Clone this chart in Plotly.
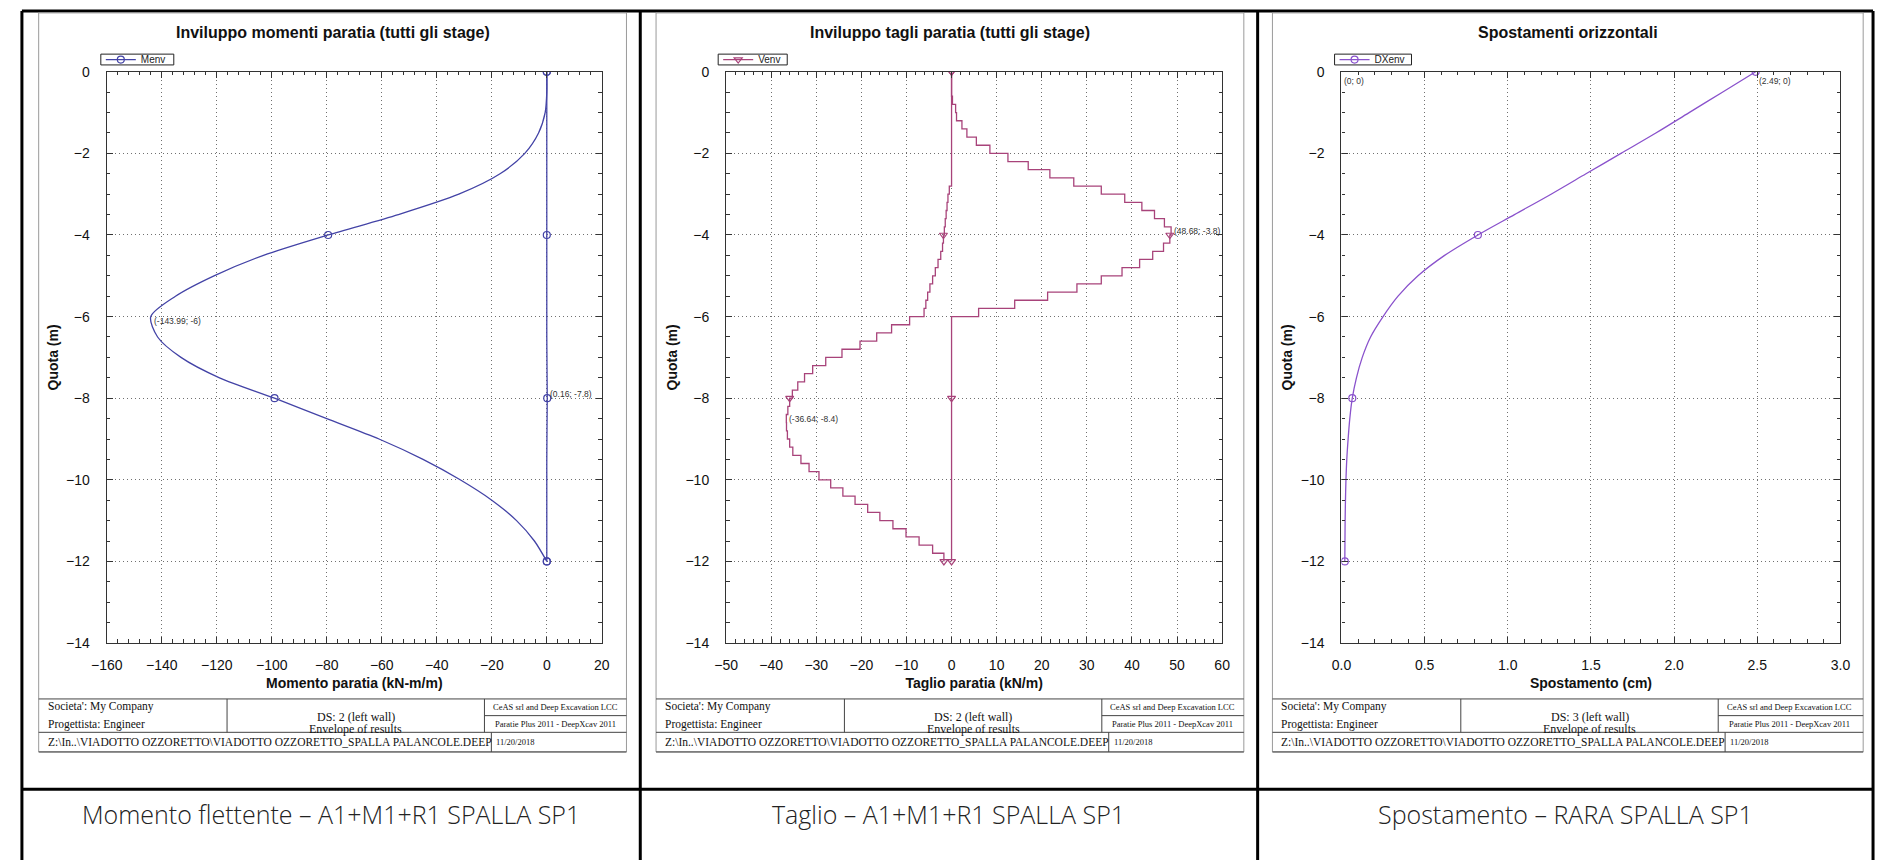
import plotly.graph_objects as go

W, H = 1886, 863

# ---------------- data ----------------
# Chart 1 - envelope of bending moment (kN-m/m) vs depth (m)
z_m = [0, -0.5, -1, -1.5, -2, -2.5, -3, -3.5, -4, -4.5, -5, -5.5, -6,
       -6.5, -7, -7.5, -8, -8.5, -9, -9.5, -10, -10.5, -11, -11.5, -12]
M_min = [0, 0, -0.6, -3, -8, -17, -32, -54, -79.5, -103, -121, -135, -143.99,
         -141.5, -133, -119, -99, -80, -61, -45, -31.5, -20, -11, -4.5, 0]
M_max = [0, 0, 0, 0, 0, 0, 0, 0, 0, 0, 0, 0, 0,
         0, 0.05, 0.1, 0.16, 0.1, 0.05, 0, 0, 0, 0, 0, 0]

# Chart 2 - envelope of shear (kN/m) vs depth (m), stepwise
z_v = [0, -0.2, -0.4, -0.6, -0.8, -1.0, -1.2, -1.4, -1.6, -1.8,
       -2.0, -2.2, -2.4, -2.6, -2.8, -3.0, -3.2, -3.4, -3.6, -3.8,
       -4.0, -4.2, -4.4, -4.6, -4.8, -5.0, -5.2, -5.4, -5.6, -5.8,
       -6.0, -6.2, -6.4, -6.6, -6.8, -7.0, -7.2, -7.4, -7.6, -7.8,
       -8.0, -8.2, -8.4, -8.6, -8.8, -9.0, -9.2, -9.4, -9.6, -9.8,
       -10.0, -10.2, -10.4, -10.6, -10.8, -11.0, -11.2, -11.4, -11.6, -11.8,
       -12.0]
V_max = [0, 0, 0, 0.2, 0.9, 1.1, 2.3, 3.4, 5.5, 8.5,
         12.5, 17.0, 21.8, 27.1, 33.2, 38.4, 42.2, 45.0, 47.2, 48.68,
         48.4, 47.0, 44.6, 41.7, 37.8, 33.2, 27.8, 21.3, 14.0, 6.0,
         0, 0, 0, 0, 0, 0, 0, 0, 0, 0,
         0, 0, 0, 0, 0, 0, 0, 0, 0, 0,
         0, 0, 0, 0, 0, 0, 0, 0, 0, 0,
         0]
V_min = [0, 0, 0, 0, 0, 0, 0, 0, 0, 0,
         0, 0, 0, 0, -0.5, -0.8, -1.0, -1.2, -1.4, -1.6,
         -1.8, -2.0, -2.4, -3.0, -3.6, -4.2, -4.8, -5.3, -5.7, -6.1,
         -9.3, -13.3, -16.6, -20.3, -24.3, -27.9, -30.8, -32.6, -34.1, -35.3,
         -35.9, -36.3, -36.64, -36.6, -36.4, -35.9, -35.2, -33.4, -31.6, -29.4,
         -26.8, -24.1, -21.4, -18.6, -15.9, -13.0, -10.1, -7.2, -4.2, -1.7,
         -1.7]

# Chart 3 - horizontal displacement envelope (cm) vs depth (m)
z_d = [0, -0.5, -1, -1.5, -2, -2.5, -3, -3.5, -4, -4.5, -5, -5.5, -6,
       -6.5, -7, -7.5, -8, -8.5, -9, -9.5, -10, -10.5, -11, -11.5, -12]
DX = [2.49, 2.29, 2.09, 1.89, 1.68, 1.47, 1.26, 1.04, 0.82, 0.62, 0.46, 0.34, 0.25,
      0.175, 0.125, 0.09, 0.065, 0.05, 0.04, 0.032, 0.027, 0.024, 0.022, 0.021, 0.02]

# point labels (value, depth)
M_labels = [(-143.99, -6), (0.16, -7.8)]
V_labels = [(48.68, -3.8), (-36.64, -8.4)]
D_labels = [(2.49, 0), (0, 0)]

titles = ["Inviluppo momenti paratia (tutti gli stage)",
          "Inviluppo tagli paratia (tutti gli stage)",
          "Spostamenti orizzontali"]
xtitles = ["Momento paratia (kN-m/m)", "Taglio paratia (kN/m)", "Spostamento (cm)"]
ytitle = "Quota (m)"
legend_names = ["Menv", "Venv", "DXenv"]
ds_texts = ["DS: 2 (left wall)", "DS: 2 (left wall)", "DS: 3 (left wall)"]
captions = ["Momento flettente \u2013 A1+M1+R1 SPALLA SP1",
            "Taglio \u2013 A1+M1+R1 SPALLA SP1",
            "Spostamento \u2013 RARA SPALLA SP1"]
block_texts = {
    "company": "Societa': My Company",
    "designer": "Progettista: Engineer",
    "env": "Envelope of results",
    "ceas": "CeAS srl and Deep Excavation LCC",
    "prog": "Paratie Plus 2011 - DeepXcav 2011",
    "path": "Z:\\In..\\VIADOTTO OZZORETTO\\VIADOTTO OZZORETTO_SPALLA PALANCOLE.DEEP",
    "date": "11/20/2018",
}

# ---------------- style ----------------
SANS = "Liberation Sans, Arial, sans-serif"
SERIF = "Liberation Serif, Times New Roman, serif"
CAPF = "Open Sans, sans-serif"
C1, C2, C3 = "#4343a6", "#a8437a", "#8a52cc"

FRAMES = [(23, 619), (649, 1245), (1274, 1873)]
PLOTX = [(92, 594), (720, 1223), (1344, 1850)]
PY0, PY1 = 65, 647
COLSEP = [6, 633, 1259, 1883]
ROWSEP = 796
LEG_W = [74, 70, 78]


def px(x):
    return x / W


def py(y):
    return 1 - y / H


def mcolors(zs, c):
    return [c if (z % 4 == 0) else "rgba(0,0,0,0)" for z in zs]


fig = go.Figure()

# chart 1
fig.add_trace(go.Scatter(x=M_min, y=z_m, mode="lines+markers", name=legend_names[0],
                         line=dict(color=C1, width=1.3, shape="spline", smoothing=0.8),
                         marker=dict(symbol="circle-open", size=7, color=mcolors(z_m, C1), line=dict(width=1.2)),
                         xaxis="x", yaxis="y", legend="legend", showlegend=True))
fig.add_trace(go.Scatter(x=M_max, y=z_m, mode="lines+markers", name=legend_names[0],
                         line=dict(color=C1, width=1.3, shape="spline", smoothing=0.8),
                         marker=dict(symbol="circle-open", size=7, color=mcolors(z_m, C1), line=dict(width=1.2)),
                         xaxis="x", yaxis="y", legend="legend", showlegend=False))
# chart 2
fig.add_trace(go.Scatter(x=V_max, y=z_v, mode="lines+markers", name=legend_names[1],
                         line=dict(color=C2, width=1.3, shape="vh"),
                         marker=dict(symbol="triangle-down-open", size=7, color=mcolors(z_v, C2), line=dict(width=1.2)),
                         xaxis="x2", yaxis="y2", legend="legend2", showlegend=True))
fig.add_trace(go.Scatter(x=V_min, y=z_v, mode="lines+markers", name=legend_names[1],
                         line=dict(color=C2, width=1.3, shape="vh"),
                         marker=dict(symbol="triangle-down-open", size=7, color=mcolors(z_v, C2), line=dict(width=1.2)),
                         xaxis="x2", yaxis="y2", legend="legend2", showlegend=False))
# chart 3
fig.add_trace(go.Scatter(x=DX, y=z_d, mode="lines+markers", name=legend_names[2],
                         line=dict(color=C3, width=1.3, shape="spline", smoothing=0.9),
                         marker=dict(symbol="circle-open", size=7, color=mcolors(z_d, C3), line=dict(width=1.2)),
                         xaxis="x3", yaxis="y3", legend="legend3", showlegend=True))


def axis(rng, dtick, mdtick, domain, title, anchor, fmt=None, is_x=True):
    d = dict(range=rng, dtick=dtick, tick0=0, domain=domain, anchor=anchor,
             showline=True, linecolor="#333", linewidth=1.2, mirror="allticks",
             ticks="inside", ticklen=6, tickwidth=1, tickcolor="#333",
             minor=dict(ticks="inside", ticklen=3.5, dtick=mdtick, tick0=0, tickcolor="#333",
                        tickwidth=1, showgrid=False),
             showgrid=True, gridcolor="#707070", gridwidth=1, griddash="1px,3px",
             zeroline=False, fixedrange=True,
             tickfont=dict(family=SANS, size=14, color="#111"),
             title=dict(text=title, font=dict(family=SANS, size=14, color="#111", weight="bold"),
                        standoff=6 if is_x else 4),
             ticklabelstandoff=9 if is_x else 13)
    if fmt:
        d["tickformat"] = fmt
    return d


def cross_axis(rng, dtick, over, anchor):
    # outer half of the major ticks (they cross the frame in the original)
    return dict(range=rng, dtick=dtick, tick0=0, overlaying=over, anchor=anchor,
                ticks="outside", ticklen=4, tickwidth=1, tickcolor="#333",
                showticklabels=False, showgrid=False, showline=False, zeroline=False,
                fixedrange=True)


ydom = [py(PY1), py(PY0)]
xr = [[-160, 20], [-50, 60], [0, 3]]
xd = [20, 10, 0.5]
xm = [4, 2, 0.1]
fmts = [None, None, ".1f"]
layout_axes = {}
for i in range(3):
    sfx = "" if i == 0 else str(i + 1)
    layout_axes["xaxis" + sfx] = axis(xr[i], xd[i], xm[i], [px(PLOTX[i][0]), px(PLOTX[i][1])],
                                      xtitles[i], "y" + sfx, fmts[i], True)
    layout_axes["yaxis" + sfx] = axis([-14, 0], 2, 0.5, ydom, ytitle, "x" + sfx, None, False)
    layout_axes["xaxis" + str(i + 4)] = cross_axis(xr[i], xd[i], "x" + sfx, "y" + sfx)
    layout_axes["yaxis" + str(i + 4)] = cross_axis([-14, 0], 2, "y" + sfx, "x" + sfx)

legend_common = dict(xanchor="left", yanchor="middle", borderwidth=0,
                     bgcolor="rgba(0,0,0,0)", font=dict(family=SANS, size=10, color="#222"),
                     itemwidth=30, tracegroupgap=0)
legends = {}
shapes = []
annotations = []
for i, key in enumerate(["legend", "legend2", "legend3"]):
    lx = FRAMES[i][0] + 63
    legends[key] = dict(x=px(lx), y=py(52.5), **legend_common)
    # legend frame box
    shapes.append(dict(type="rect", xref="paper", yref="paper", x0=px(lx), x1=px(lx + LEG_W[i]),
                       y0=py(58), y1=py(47), line=dict(color="#222", width=1), fillcolor="white",
                       layer="above"))

# outer table
for x in COLSEP:
    shapes.append(dict(type="line", xref="paper", yref="paper", x0=px(x), x1=px(x), y0=py(3), y1=py(H + 5),
                       line=dict(color="black", width=3)))
for y in [3, ROWSEP]:
    shapes.append(dict(type="line", xref="paper", yref="paper", x0=px(COLSEP[0]), x1=px(COLSEP[-1]),
                       y0=py(y), y1=py(y), line=dict(color="black", width=3)))

BT, BM, BR, BB = 704, 721, 738, 758
for i, (f0, f1) in enumerate(FRAMES):
    # chart image frame
    shapes.append(dict(type="rect", xref="paper", yref="paper", x0=px(f0), x1=px(f1), y0=py(BB), y1=py(5),
                       line=dict(color="#9a9a9a", width=1)))
    lc = dict(color="#444", width=1)
    for (xa, ya, xb, yb) in [(f0, BT, f1, BT), (f0, BR, f1, BR), (f0 + 191, BT, f0 + 191, BR),
                             (f0 + 452, BT, f0 + 452, BR), (f0 + 452, BM, f1, BM),
                             (f0 + 459, BR, f0 + 459, BB), (f0, BB, f1, BB)]:
        shapes.append(dict(type="line", xref="paper", yref="paper", x0=px(xa), x1=px(xb),
                           y0=py(ya), y1=py(yb), line=lc))
    cx = (f0 + f1) / 2
    annotations.append(dict(xref="paper", yref="paper", x=px(cx), y=py(25), text="<b>%s</b>" % titles[i],
                            showarrow=False, xanchor="center", yanchor="middle",
                            font=dict(family=SANS, size=16, color="#111")))

    def bt(x, y, t, size, anchor="left"):
        annotations.append(dict(xref="paper", yref="paper", x=px(x), y=py(y), text=t, showarrow=False,
                                xanchor=anchor, yanchor="middle",
                                font=dict(family=SERIF, size=size, color="#111")))
    bt(f0 + 7, 712, block_texts["company"], 11.5)
    bt(f0 + 7, 730, block_texts["designer"], 11.5)
    bt(f0 + 321.5, 722, ds_texts[i], 12, "center")
    bt(f0 + 321.5, 735, block_texts["env"], 12, "center")
    bt(f0 + 524, 712.5, block_texts["ceas"], 8.5, "center")
    bt(f0 + 524, 730, block_texts["prog"], 8.5, "center")
    bt(f0 + 7, 748, block_texts["path"], 11.5)
    bt(f0 + 462, 748, block_texts["date"], 8.5)
    # caption
    ccx = (COLSEP[i] + COLSEP[i + 1]) / 2
    annotations.append(dict(xref="paper", yref="paper", x=px(ccx), y=py(821), text=captions[i],
                            showarrow=False, xanchor="center", yanchor="middle",
                            font=dict(family=CAPF, size=25, color="#222", weight=300)))

# data-point labels
lab_font = dict(family=SANS, size=8.5, color="#333")
for (xv, yv), (xa, ya) in zip(M_labels + V_labels + D_labels,
                              [("x", "y")] * 2 + [("x2", "y2")] * 2 + [("x3", "y3")] * 2):
    annotations.append(dict(xref=xa, yref=ya, x=xv, y=yv, text="(%g; %g)" % (xv, yv), showarrow=False,
                            xanchor="left", yanchor="top" if yv == 0 else "middle",
                            xshift=1, yshift=-2 if yv == 0 else -4, font=lab_font))

fig.update_layout(width=W, height=H, margin=dict(l=0, r=0, t=0, b=0), autosize=False,
                  paper_bgcolor="white", plot_bgcolor="white",
                  shapes=shapes, annotations=annotations, **layout_axes, **legends)

fig.write_html("out.html", config={"displayModeBar": False},
               post_script="document.body.style.margin='0';document.body.style.overflow='hidden';")
